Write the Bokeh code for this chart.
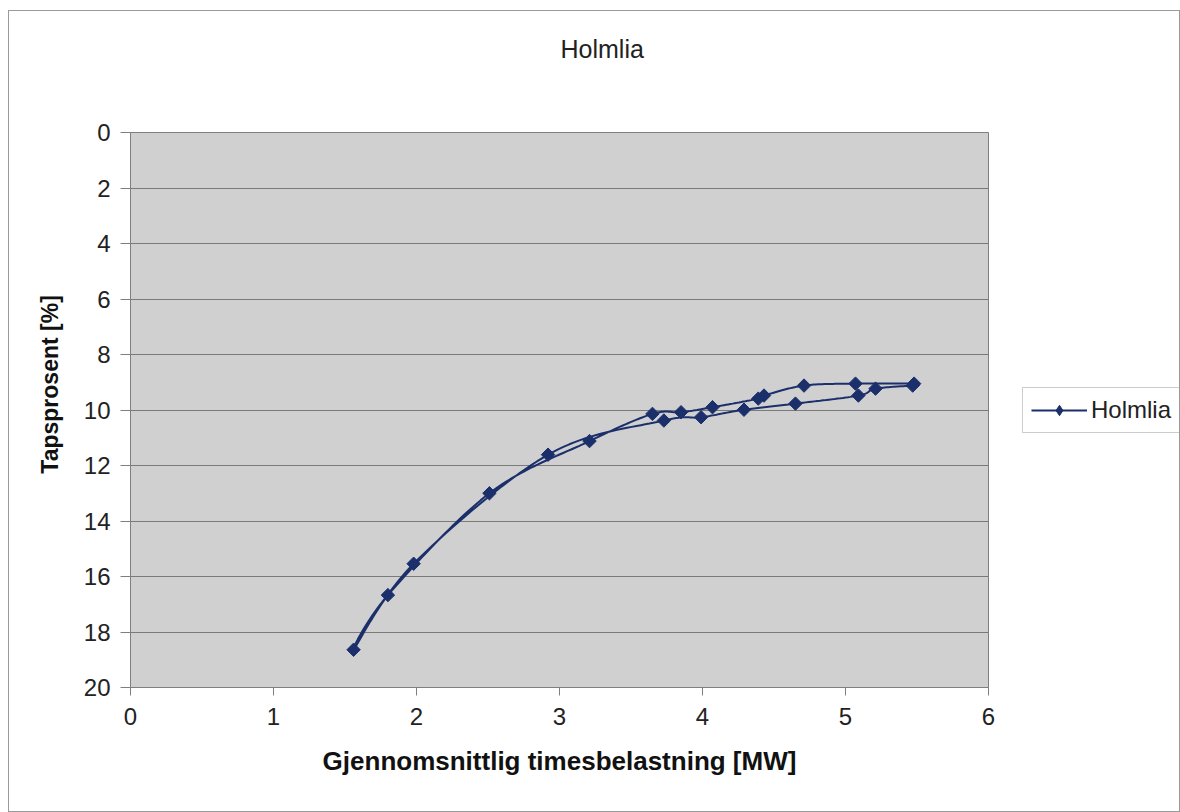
import numpy as np
from bokeh.plotting import figure
from bokeh.layouts import row
from bokeh.models import (Range1d, FixedTicker, Legend, LegendItem,
                          ColumnDataSource)
from bokeh.embed import file_html
from bokeh.resources import INLINE

# Average hourly load [MW] and loss percentage [%], in measurement order
load_mw = [5.48, 5.07, 4.71, 4.43, 4.39, 4.07, 3.85, 3.65, 3.21, 2.51, 1.80,
           1.56, 1.98, 2.92, 3.73, 3.99, 4.29, 4.65, 5.09, 5.21, 5.47]
loss_pct = [9.05, 9.05, 9.12, 9.48, 9.59, 9.90, 10.08, 10.14, 11.12, 13.00,
            16.67, 18.64, 15.54, 11.61, 10.38, 10.26, 9.99, 9.77, 9.48, 9.23,
            9.12]
series_name = "Holmlia"
x_ticks = [0, 1, 2, 3, 4, 5, 6]
y_ticks = [0, 2, 4, 6, 8, 10, 12, 14, 16, 18, 20]

FONT = "Liberation Sans"
NAVY = "#1b2f6b"

FRAME_W, FRAME_H = 858, 555
X0, X1 = 0, 6
Y0, Y1 = 20, 0
MARKER = dict(marker="square", size=9.5, angle=np.pi / 4,
              fill_color=NAVY, line_color=NAVY)


def smooth(xs, ys, sx, sy, steps=24):
    """Catmull-Rom curve through the points, computed in screen-like space."""
    P = np.column_stack([np.asarray(xs) * sx, np.asarray(ys) * sy])
    P = np.vstack([P[0], P, P[-1]])
    out = []
    for i in range(1, len(P) - 2):
        p0, p1, p2, p3 = P[i - 1], P[i], P[i + 1], P[i + 2]
        c1 = p1 + (p2 - p0) / 6.0
        c2 = p2 - (p3 - p1) / 6.0
        t = np.linspace(0, 1, steps, endpoint=(i == len(P) - 3))[:, None]
        seg = ((1 - t) ** 3) * p1 + 3 * ((1 - t) ** 2) * t * c1 \
            + 3 * (1 - t) * t ** 2 * c2 + t ** 3 * p2
        out.append(seg)
    out = np.vstack(out)
    return out[:, 0] / sx, out[:, 1] / sy


sx = FRAME_W / (X1 - X0)
sy = FRAME_H / abs(Y0 - Y1)
cx, cy = smooth(load_mw, loss_pct, sx, sy)

p = figure(frame_width=FRAME_W, frame_height=FRAME_H,
           x_range=Range1d(X0, X1), y_range=Range1d(Y0, Y1),
           output_backend="svg", toolbar_location=None,
           min_border_left=121, min_border_top=121,
           min_border_bottom=124, min_border_right=34,
           background_fill_color="#d0d0d0", border_fill_color="white")

# A trailing blank line keeps the title high up in the top margin
p.title.text = series_name + "\n "
p.title.align = "left"
p.title.offset = 430
p.title.vertical_align = "top"
p.title.standoff = 44
p.title.text_line_height = 1.66
p.title.text_font = FONT
p.title.text_font_size = "25px"
p.title.text_font_style = "normal"
p.title.text_color = "#222222"

p.outline_line_color = "#7f7f7f"
p.outline_line_width = 1

p.xgrid.visible = False
p.ygrid.ticker = FixedTicker(ticks=y_ticks)
p.ygrid.grid_line_color = "#7a7a7a"
p.ygrid.grid_line_width = 1

for ax in (p.xaxis[0], p.yaxis[0]):
    ax.axis_line_color = "#7f7f7f"
    ax.major_tick_line_color = "#7f7f7f"
    ax.minor_tick_line_color = None
    ax.major_tick_in = 0
    ax.major_label_text_font = FONT
    ax.major_label_text_font_size = "24px"
    ax.major_label_text_color = "#222222"
    ax.axis_label_text_font = FONT
    ax.axis_label_text_font_style = "bold"
    ax.axis_label_text_color = "#111111"

p.xaxis.ticker = FixedTicker(ticks=x_ticks)
p.xaxis.major_tick_out = 8
p.xaxis.major_label_standoff = 12
p.xaxis.axis_label = "Gjennomsnittlig timesbelastning [MW]"
p.xaxis.axis_label_text_font_size = "26px"
p.xaxis.axis_label_standoff = 18

p.yaxis.ticker = FixedTicker(ticks=y_ticks)
p.yaxis.major_tick_out = 10
p.yaxis.major_label_standoff = 10
# leading no-break spaces lift the rotated label a little above centre
p.yaxis.axis_label = "\u00a0" * 8 + "Tapsprosent [%]"
p.yaxis.axis_label_text_font_size = "23px"
p.yaxis.axis_label_standoff = 18

p.line(cx, cy, line_color=NAVY, line_width=2)
p.scatter(x="x", y="y", source=ColumnDataSource(dict(x=load_mw, y=loss_pct)),
          **MARKER)

# Side panel holding the series legend; its key renderers carry the first
# reading but the panel's ranges keep them off-screen, so only the key shows.
lf = figure(width=157, height=p.min_border_top + FRAME_H + p.min_border_bottom,
            x_range=Range1d(-2, -1), y_range=Range1d(-2, -1),
            x_axis_type=None, y_axis_type=None,
            output_backend="svg", toolbar_location=None,
            min_border=0, outline_line_color=None,
            background_fill_color="white", border_fill_color="white")
lf.grid.visible = False
key_src = ColumnDataSource(dict(x=load_mw[:1], y=loss_pct[:1]))
key_line = lf.line(x="x", y="y", source=key_src, line_color=NAVY, line_width=2)
key_pts = lf.scatter(x="x", y="y", source=key_src, marker="diamond", size=13,
                     fill_color=NAVY, line_color=NAVY)
legend = Legend(items=[LegendItem(label=series_name,
                                  renderers=[key_line, key_pts])],
                location=(0, 254), margin=0, padding=8, spacing=0,
                glyph_width=56, glyph_height=26, label_standoff=4,
                label_text_font=FONT, label_text_font_size="24px",
                label_text_color="#222222",
                border_line_color="#9a9a9a", border_line_width=1,
                background_fill_color="white")
lf.add_layout(legend)

layout = row(p, lf, spacing=0)
layout.styles = {"border": "1px solid #9a9a9a", "margin-left": "8px",
                 "margin-top": "10px"}

open("out.html", "w").write(file_html(layout, INLINE))
